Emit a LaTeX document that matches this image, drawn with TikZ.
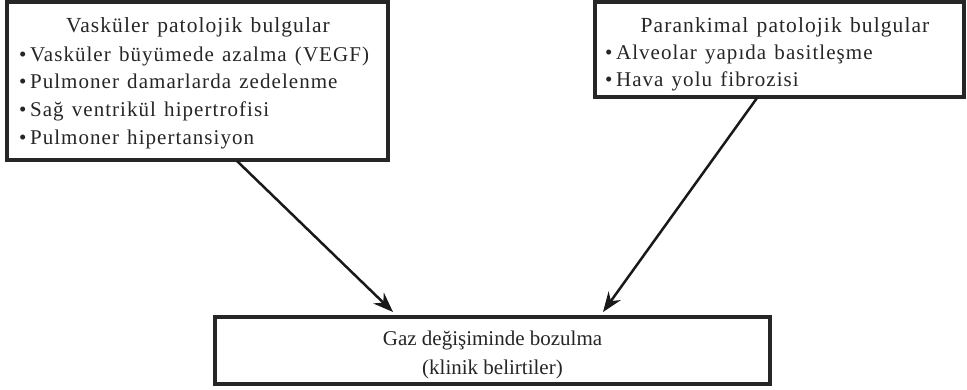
\documentclass[tikz,border=0pt]{standalone}
\usepackage{fontspec}
\setmainfont{Liberation Serif}
\newfontfamily\topfont[LetterSpace=5,WordSpace=1.3]{Liberation Serif}
\usetikzlibrary{arrows.meta}
\begin{document}
\begin{tikzpicture}[x=1pt,y=-1pt,
  box/.style={draw=black!85, line width=4pt, inner sep=0pt, fill=white},
  ttl/.style={font=\topfont\fontsize{21.5}{26}\selectfont, text=black!85, anchor=base, inner sep=0pt},
  itm/.style={font=\topfont\fontsize{21}{26}\selectfont, text=black!85, anchor=base west, inner sep=0pt},
  btxt/.style={font=\fontsize{21}{25}\selectfont, text=black!85, anchor=base, inner sep=0pt},
  arr/.style={line width=2.5pt, draw=black!90, -{Stealth[length=20pt,width=15pt]}}]
\useasboundingbox (0,0) rectangle (967,389);
% boxes
\node[box, minimum width=381pt, minimum height=158pt] (L) at (197.5,81) {};
\node[box, minimum width=369pt, minimum height=95pt] (R) at (779.5,49.5) {};
\node[box, minimum width=555pt, minimum height=67pt] (B) at (492.5,350.5) {};
% left text
\node[ttl] (Lt) at (198,32) {Vasküler patolojik bulgular};
\node[itm] (L1) at (19,61) {•\,Vasküler büyümede azalma (VEGF)};
\node[itm] (L2) at (19,88) {•\,Pulmoner damarlarda zedelenme};
\node[itm] (L3) at (19,116) {•\,Sağ ventrikül hipertrofisi};
\node[itm] (L4) at (19,144) {•\,Pulmoner hipertansiyon};
% right text
\node[ttl] (Rt) at (785,32) {Parankimal patolojik bulgular};
\node[itm] (R1) at (605,59) {•\,Alveolar yapıda basitleşme};
\node[itm] (R2) at (605,86) {•\,Hava yolu fibrozisi};
% bottom text
\node[btxt] (Bt1) at (492.5,345) {Gaz değişiminde bozulma};
\node[btxt] (Bt2) at (492.5,374) {(klinik belirtiler)};
% arrows
\coordinate (s1) at (237,161);
\coordinate (e1) at (393,312);
\coordinate (s2) at (757,98);
\coordinate (e2) at (603,312);
\draw[arr] (s1) -- (e1);
\draw[arr] (s2) -- (e2);
\end{tikzpicture}
\end{document}
